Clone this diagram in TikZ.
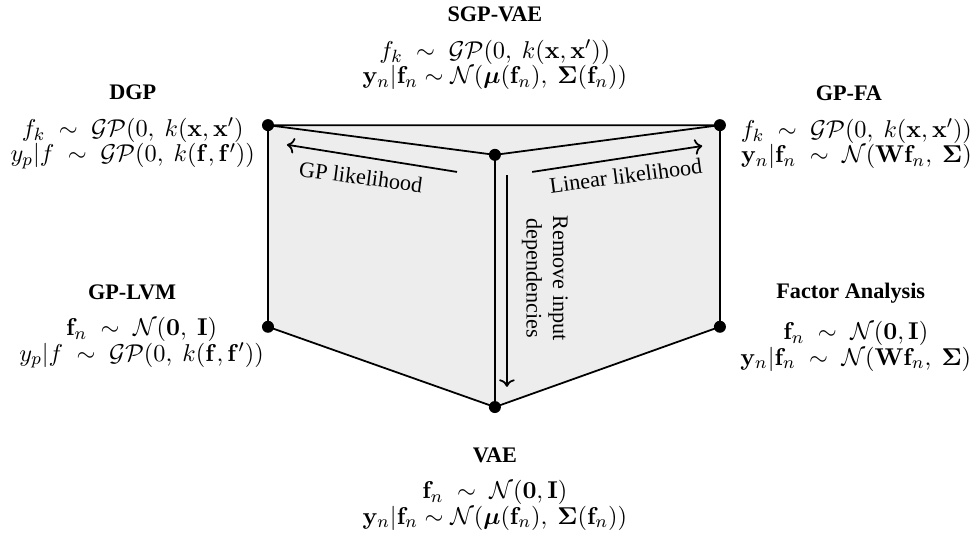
\documentclass[tikz,border=0pt]{standalone}
\usepackage{amsmath}
\usepackage[no-math]{fontspec}
\setmainfont{Liberation Serif}
\usetikzlibrary{positioning, arrows.meta, calc}

\begin{document}
\begin{tikzpicture}[
    node distance=2mm,
    title/.style={font=\bfseries, inner sep=1pt},
    model/.style={align=center, inner sep=1pt, font=\fontsize{10.95}{11.5}\selectfont},
    vertex/.style={circle, fill=black, inner sep=0pt, minimum size=1.9mm},
    edge/.style={thick, line join=round},
    flow/.style={->, thick},
    flowlabel/.style={inner sep=1pt, align=center}
]

\useasboundingbox (0,0) rectangle (15.41,-8.46);

% Corners of the folded sheet
\coordinate (dgp)   at (4.24,-1.98);
\coordinate (gpfa)  at (11.39,-1.98);
\coordinate (sgp)   at (7.83,-2.45);
\coordinate (gplvm) at (4.24,-5.17);
\coordinate (fa)    at (11.39,-5.17);
\coordinate (vae)   at (7.83,-6.44);

% Sheet and folds
\fill[black!7] (dgp) -- (gpfa) -- (fa) -- (vae) -- (gplvm) -- cycle;
\draw[edge] (dgp) -- (gpfa) -- (fa) -- (vae) -- (gplvm) -- cycle;
\draw[edge] (dgp) -- (sgp) -- (gpfa);
\draw[edge] (sgp) -- (vae);

% Dots on the corners
\foreach \corner in {dgp, gpfa, sgp, gplvm, fa, vae}
    \node[vertex] (\corner dot) at (\corner) {};

% Arrows along the folds
\coordinate (gp start)  at (7.23,-2.72);
\coordinate (gp end)    at (4.54,-2.29);
\coordinate (lin start) at (8.42,-2.72);
\coordinate (lin end)   at (11.11,-2.31);
\coordinate (dep start) at (8.02,-2.77);
\coordinate (dep end)   at (8.02,-6.12);

\draw[flow] (gp start) -- (gp end);
\draw[flow] (lin start) -- (lin end);
\draw[flow] (dep start) -- (dep end);

\node[flowlabel, rotate=-7.5] (gp label) at (5.71,-2.80) {GP likelihood};
\node[flowlabel, rotate=7.5] (lin label) at (9.90,-2.78) {Linear likelihood};
\node[flowlabel, rotate=-90] (dep label) at (8.62,-4.40) {Remove input\\dependencies};

% Model titles
\node[title] (sgpvae title) at (7.83,-0.22) {SGP-VAE};
\node[title] (dgp title) at (2.10,-1.46) {DGP};
\node[title] (gpfa title) at (13.43,-1.47) {GP-FA};
\node[title] (gplvm title) at (2.09,-4.62) {GP-LVM};
\node[title] (fa title) at (13.46,-4.64) {Factor Analysis};
\node[title] (vae title) at (7.83,-7.20) {VAE};

% Model equations
\node[model, below=of sgpvae title] (sgpvae eq) {%
    $f_k \;\sim\; \mathcal{GP}(0,\ k(\mathbf{x}, \mathbf{x}'))$\\
    $\mathbf{y}_n | \mathbf{f}_n \sim \mathcal{N}(\boldsymbol{\mu}(\mathbf{f}_n),\ \boldsymbol{\Sigma}(\mathbf{f}_n))$};
\node[model, below=of dgp title] (dgp eq) {%
    $f_k \;\sim\; \mathcal{GP}(0,\ k(\mathbf{x}, \mathbf{x}')$\\
    $y_p | f \;\sim\; \mathcal{GP}(0,\ k(\mathbf{f}, \mathbf{f}'))$};
\node[model, below=of gpfa title, xshift=1.2mm] (gpfa eq) {%
    $f_k \;\sim\; \mathcal{GP}(0,\ k(\mathbf{x}, \mathbf{x}'))$\\
    $\mathbf{y}_n | \mathbf{f}_n \;\sim\; \mathcal{N}(\mathbf{W}\mathbf{f}_n,\ \boldsymbol{\Sigma})$};
\node[model, below=of gplvm title, xshift=1.5mm] (gplvm eq) {%
    $\mathbf{f}_n \;\sim\; \mathcal{N}(\mathbf{0},\ \mathbf{I})$\\
    $y_p | f \;\sim\; \mathcal{GP}(0,\ k(\mathbf{f}, \mathbf{f}'))$};
\node[model, below=of fa title, xshift=0.8mm] (fa eq) {%
    $\mathbf{f}_n \;\sim\; \mathcal{N}(\mathbf{0}, \mathbf{I})$\\
    $\mathbf{y}_n | \mathbf{f}_n \;\sim\; \mathcal{N}(\mathbf{W}\mathbf{f}_n,\ \boldsymbol{\Sigma})$};
\node[model, below=of vae title] (vae eq) {%
    $\mathbf{f}_n \;\sim\; \mathcal{N}(\mathbf{0}, \mathbf{I})$\\
    $\mathbf{y}_n | \mathbf{f}_n \sim \mathcal{N}(\boldsymbol{\mu}(\mathbf{f}_n),\ \boldsymbol{\Sigma}(\mathbf{f}_n))$};

\end{tikzpicture}
\end{document}
